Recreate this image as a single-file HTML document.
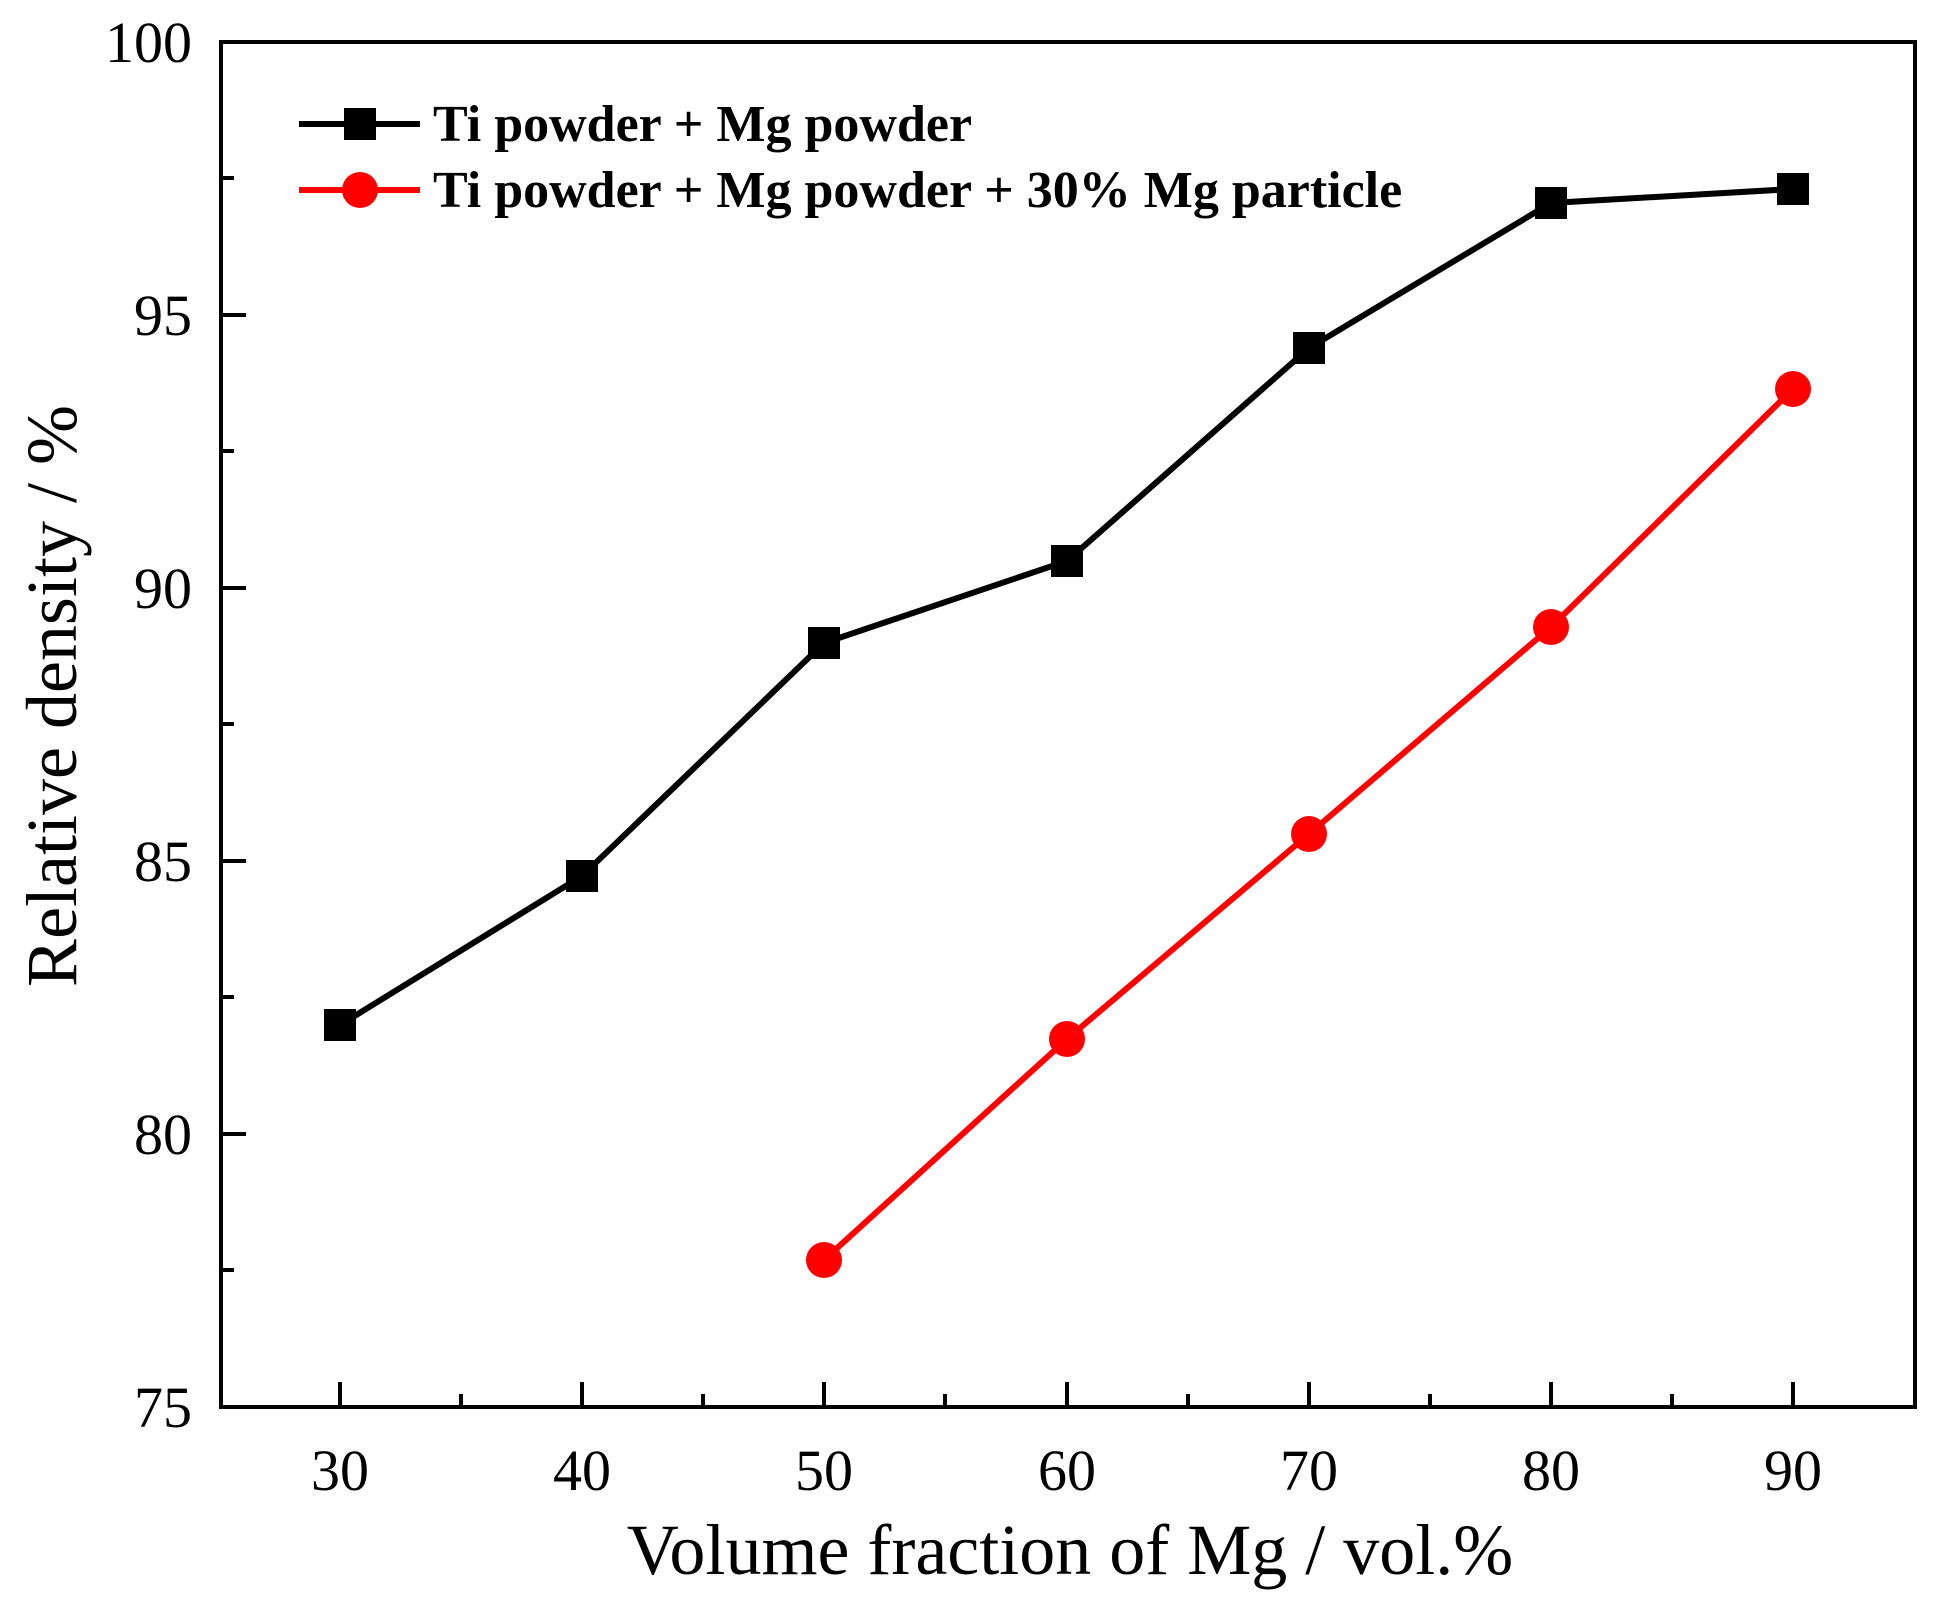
<!DOCTYPE html>
<html><head><meta charset="utf-8"><style>html,body{margin:0;padding:0;background:#fff}svg{display:block}</style></head>
<body>
<svg width="1938" height="1598" viewBox="0 0 1938 1598" xmlns="http://www.w3.org/2000/svg" font-family="Liberation Serif, serif">
<rect width="1938" height="1598" fill="#fff"/>
<g stroke="#000" stroke-width="4" fill="none">
<rect x="221" y="42" width="1694" height="1365"/>
<path d="M340 1407v-25M582 1407v-25M824 1407v-25M1067 1407v-25M1309 1407v-25M1551 1407v-25M1793 1407v-25"/>
<path d="M461 1407v-13M703 1407v-13M945 1407v-13M1188 1407v-13M1430 1407v-13M1672 1407v-13"/>
<path d="M221 315h25M221 588h25M221 861h25M221 1134h25"/>
<path d="M221 178h13M221 451h13M221 724h13M221 997h13M221 1270h13"/>
</g>
<g font-size="58" fill="#000" text-anchor="end">
<text x="192" y="62">100</text>
<text x="192" y="335">95</text>
<text x="192" y="608">90</text>
<text x="192" y="881">85</text>
<text x="192" y="1154">80</text>
<text x="192" y="1427">75</text>
</g>
<g font-size="58" fill="#000" text-anchor="middle">
<text x="340" y="1490">30</text>
<text x="582" y="1490">40</text>
<text x="824" y="1490">50</text>
<text x="1067" y="1490">60</text>
<text x="1309" y="1490">70</text>
<text x="1551" y="1490">80</text>
<text x="1793" y="1490">90</text>
</g>
<text x="1070" y="1574" font-size="72" text-anchor="middle">Volume fraction of Mg / vol.%</text>
<text transform="translate(76,696) rotate(-90)" font-size="72" text-anchor="middle">Relative density / %</text>
<polyline fill="none" stroke="#000" stroke-width="6" points="340,1025 582,876 824,643 1067,561 1309,348 1551,203 1793,189"/>
<g fill="#000">
<rect x="324" y="1009" width="32" height="32"/><rect x="566" y="860" width="32" height="32"/><rect x="808" y="627" width="32" height="32"/><rect x="1051" y="545" width="32" height="32"/><rect x="1293" y="332" width="32" height="32"/><rect x="1535" y="187" width="32" height="32"/><rect x="1777" y="173" width="32" height="32"/>
</g>
<polyline fill="none" stroke="#f00" stroke-width="6" points="824,1260 1067,1039 1309,834 1551,627 1793,389"/>
<g fill="#f00">
<circle cx="824" cy="1260" r="18"/><circle cx="1067" cy="1039" r="18"/><circle cx="1309" cy="834" r="18"/><circle cx="1551" cy="627" r="18"/><circle cx="1793" cy="389" r="18"/>
</g>
<line x1="299" y1="124" x2="420" y2="124" stroke="#000" stroke-width="6"/>
<rect x="344" y="108" width="32" height="32" fill="#000"/>
<line x1="299" y1="190" x2="420" y2="190" stroke="#f00" stroke-width="6"/>
<circle cx="360" cy="190" r="18" fill="#f00"/>
<g font-size="52" font-weight="bold" fill="#000">
<text x="433" y="141">Ti powder + Mg powder</text>
<text x="433" y="207">Ti powder + Mg powder + 30% Mg particle</text>
</g>
</svg>
</body></html>
